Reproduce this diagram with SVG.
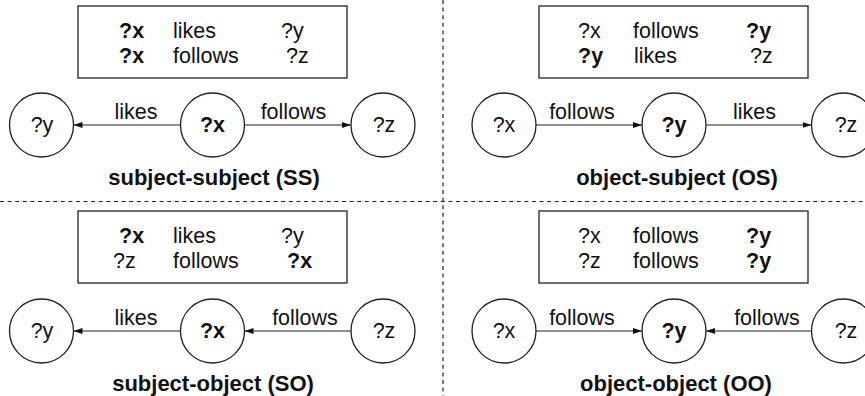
<svg xmlns="http://www.w3.org/2000/svg" width="865" height="396" viewBox="0 0 865 396">
<style>
text{font-family:"Liberation Sans",Arial,Helvetica,sans-serif;font-size:21.5px;fill:#111}
.b{font-weight:bold}
.m{text-anchor:middle}
.t{font-size:22px}
.box{fill:#fff;stroke:#222;stroke-width:1.3}
.node{fill:#fff;stroke:#222;stroke-width:1.3}
.edge{stroke:#222;stroke-width:1.2;fill:none;marker-end:url(#ah)}
.div{stroke:#222;stroke-width:1.2;stroke-dasharray:4 3.6;fill:none}
</style>
<defs>
<marker id="ah" markerUnits="userSpaceOnUse" markerWidth="10" markerHeight="7" refX="9" refY="3" orient="auto">
<path d="M0,0 L9,3 L0,6 z" fill="#111"/>
</marker>
</defs>
<rect width="865" height="396" fill="#fff"/>
<g id="dividers">
<line class="div" x1="0" y1="201.5" x2="865" y2="201.5"/>
<line class="div" x1="443" y1="0" x2="443" y2="396"/>
</g>

<!-- SS panel -->
<g id="ss-box">
<rect class="box" x="78" y="6" width="269" height="72"/>
<text class="b" x="119" y="38">?x</text><text x="173" y="38">likes</text><text x="281" y="38">?y</text>
<text class="b" x="119" y="63">?x</text><text x="173" y="63">follows</text><text x="286" y="63">?z</text>
</g>
<g id="ss-y"><circle class="node" cx="41.5" cy="125" r="32"/><text class="m" x="42" y="132">?y</text></g>
<g id="ss-x"><circle class="node" cx="212.5" cy="125" r="32"/><text class="m b" x="212.5" y="132">?x</text></g>
<g id="ss-z"><circle class="node" cx="383" cy="125" r="32"/><text class="m" x="384" y="132">?z</text></g>
<text id="ss-title" class="m b t" x="214" y="185">subject-subject (SS)</text>

<!-- OS panel -->
<g id="os-box">
<rect class="box" x="539" y="6" width="269" height="72"/>
<text x="578" y="38">?x</text><text x="633" y="38">follows</text><text class="b" x="746" y="38">?y</text>
<text class="b" x="578" y="63">?y</text><text x="634" y="63">likes</text><text x="750" y="63">?z</text>
</g>
<g id="os-x"><circle class="node" cx="504" cy="125" r="32"/><text class="m" x="504" y="132">?x</text></g>
<g id="os-y"><circle class="node" cx="674" cy="125" r="32"/><text class="m b" x="674" y="132">?y</text></g>
<g id="os-z"><circle class="node" cx="843.5" cy="125" r="32"/><text class="m" x="846" y="132">?z</text></g>
<text id="os-title" class="m b t" x="677" y="185">object-subject (OS)</text>

<!-- SO panel -->
<g id="so-box">
<rect class="box" x="78" y="211" width="269" height="72"/>
<text class="b" x="119" y="243">?x</text><text x="173" y="243">likes</text><text x="281" y="243">?y</text>
<text x="113" y="268">?z</text><text x="173" y="268">follows</text><text class="b" x="287" y="268">?x</text>
</g>
<g id="so-y"><circle class="node" cx="41.5" cy="331" r="32"/><text class="m" x="42" y="338">?y</text></g>
<g id="so-x"><circle class="node" cx="212.5" cy="331" r="32"/><text class="m b" x="212.5" y="338">?x</text></g>
<g id="so-z"><circle class="node" cx="383" cy="331" r="32"/><text class="m" x="384" y="338">?z</text></g>
<text id="so-title" class="m b t" x="213" y="391">subject-object (SO)</text>

<!-- OO panel -->
<g id="oo-box">
<rect class="box" x="539" y="211" width="269" height="72"/>
<text x="578" y="243">?x</text><text x="633" y="243">follows</text><text class="b" x="746" y="243">?y</text>
<text x="578" y="268">?z</text><text x="633" y="268">follows</text><text class="b" x="746" y="268">?y</text>
</g>
<g id="oo-x"><circle class="node" cx="504" cy="331" r="32"/><text class="m" x="504" y="338">?x</text></g>
<g id="oo-y"><circle class="node" cx="674" cy="331" r="32"/><text class="m b" x="674" y="338">?y</text></g>
<g id="oo-z"><circle class="node" cx="843.5" cy="331" r="32"/><text class="m" x="846" y="338">?z</text></g>
<text id="oo-title" class="m b t" x="676" y="391">object-object (OO)</text>

<g id="connectors">
<line class="edge" x1="180.5" y1="125" x2="73.5" y2="125"/>
<text class="m" x="136" y="119">likes</text>
<line class="edge" x1="244.5" y1="125" x2="351" y2="125"/>
<text class="m" x="293.5" y="119">follows</text>

<line class="edge" x1="536" y1="125" x2="642" y2="125"/>
<text class="m" x="582" y="119">follows</text>
<line class="edge" x1="706" y1="125" x2="811.5" y2="125"/>
<text class="m" x="754.5" y="119">likes</text>

<line class="edge" x1="180.5" y1="331" x2="73.5" y2="331"/>
<text class="m" x="136" y="325">likes</text>
<line class="edge" x1="351" y1="331" x2="244.5" y2="331"/>
<text class="m" x="305" y="325">follows</text>

<line class="edge" x1="536" y1="331" x2="642" y2="331"/>
<text class="m" x="582" y="325">follows</text>
<line class="edge" x1="811.5" y1="331" x2="706" y2="331"/>
<text class="m" x="767" y="325">follows</text>
</g>
</svg>
